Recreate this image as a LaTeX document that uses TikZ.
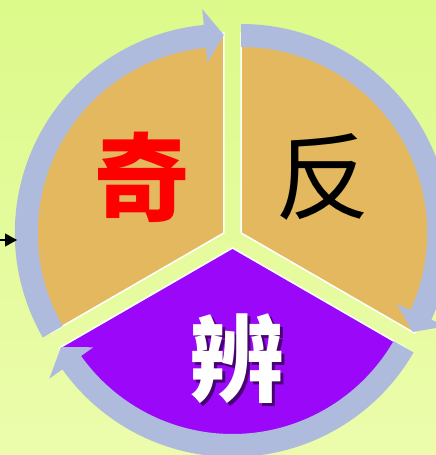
\documentclass[tikz,border=0pt]{standalone}
\usepackage{fontspec}
\newfontfamily\cjk{Noto Sans CJK SC}
\usetikzlibrary{arrows.meta}
\definecolor{leaf}{RGB}{220,250,138}
\definecolor{paleleaf}{RGB}{236,252,172}
\definecolor{sand}{RGB}{227,184,94}
\definecolor{grape}{RGB}{155,8,249}
\definecolor{haze}{RGB}{175,187,221}

\begin{document}
\begin{tikzpicture}[x=1pt, y=1pt,
    sector/.style={draw=white, line width=1.5pt},
    band/.style={fill=haze},
    glyph/.style={font=\cjk\bfseries\fontsize{95}{95}\selectfont, inner sep=0pt}]
    % Background
    \shade[top color=leaf, bottom color=paleleaf] (0,0) rectangle (436,455);
    \useasboundingbox (0,0) rectangle (436,455);

    % Top-left sector
    \begin{scope}[shift={(223.8,222)}]
      \fill[sand, sector] (0,0) -- (90:200) arc[start angle=90, end angle=210, radius=200] -- cycle;
      \fill[band] (210:186) arc[start angle=210, end angle=95.5, radius=186] -- (95.5:171)
        -- (90:198) -- (95.5:225) -- (95.5:209) arc[start angle=95.5, end angle=210, radius=209] -- cycle;
    \end{scope}

    % Top-right sector
    \begin{scope}[shift={(241.2,222)}]
      \fill[sand, sector] (0,0) -- (-30:200) arc[start angle=-30, end angle=90, radius=200] -- cycle;
      \fill[band] (90:186) arc[start angle=90, end angle=-24.5, radius=186] -- (-24.5:171)
        -- (-30:198) -- (-24.5:225) -- (-24.5:209) arc[start angle=-24.5, end angle=90, radius=209] -- cycle;
    \end{scope}

    % Bottom sector
    \begin{scope}[shift={(232.5,207)}]
      \fill[grape, sector] (0,0) -- (210:200) arc[start angle=210, end angle=330, radius=200] -- cycle;
      \fill[band] (330:186) arc[start angle=330, end angle=215.5, radius=186] -- (215.5:171)
        -- (210:198) -- (215.5:225) -- (215.5:209) arc[start angle=215.5, end angle=330, radius=209] -- cycle;
    \end{scope}

    % Labels
    \node[glyph, text=red] (qi) at (142,278) {奇};
    \node[glyph, font=\cjk\fontsize{95}{95}\selectfont] (fan) at (323,278) {反};
    \node[glyph, text=grape!45!black] (bianshadow) at (240,93) {辨};
    \node[glyph, text=white] (bian) at (237,96) {辨};

    % Entry arrow
    \coordinate (entry) at (0,215);
    \coordinate (entrytip) at (17,215);
    \draw[line width=1.2pt, -{Triangle[length=12pt, width=13pt]}] (entry) -- (entrytip);
\end{tikzpicture}
\end{document}
